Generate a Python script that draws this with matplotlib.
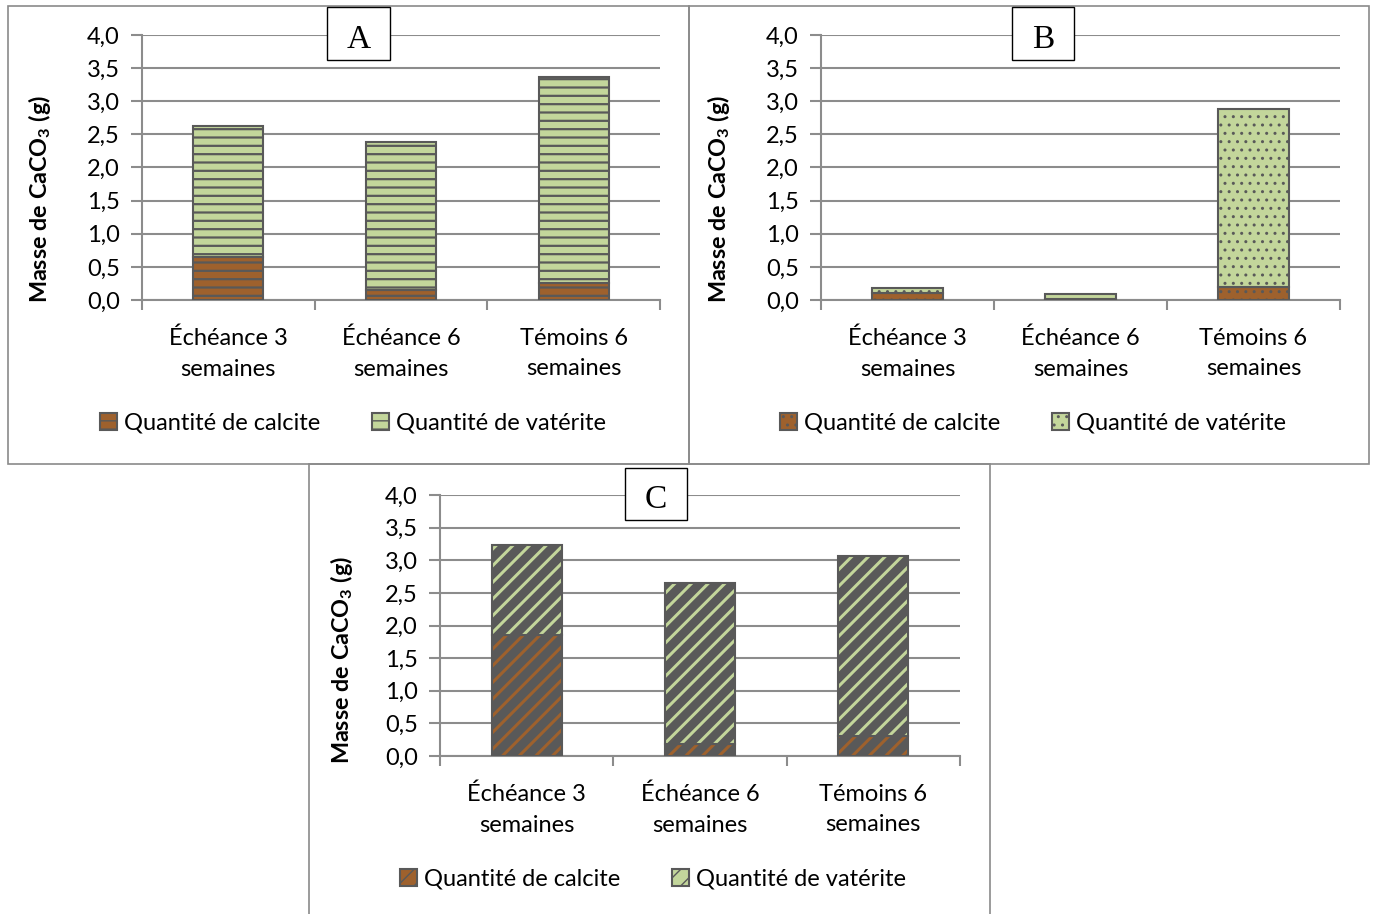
import matplotlib
matplotlib.use("Agg")
import matplotlib.pyplot as plt
from matplotlib.patches import Rectangle
import numpy as np

plt.rcParams['font.family'] = ['Lato', 'DejaVu Sans']
plt.rcParams['mathtext.fontset'] = 'custom'
plt.rcParams['mathtext.rm'] = 'Lato'
plt.rcParams['mathtext.bf'] = 'Lato:bold'

categories = ["Échéance 3\nsemaines", "Échéance 6\nsemaines", "Témoins 6\nsemaines"]
series_names = ["Quantité de calcite", "Quantité de vatérite"]
yticks = [0.0, 0.5, 1.0, 1.5, 2.0, 2.5, 3.0, 3.5, 4.0]

# totals; vaterite = total - calcite
calcite_a = [0.65, 0.15, 0.25]
total_a = [2.63, 2.39, 3.37]
calcite_b = [0.10, 0.01, 0.19]
total_b = [0.18, 0.09, 2.89]
calcite_c = [1.85, 0.18, 0.31]
total_c = [3.24, 2.65, 3.06]

W, H = 1374, 914
BROWN = "#9E612D"
GREEN = "#C3D69B"
EDGE = "#595959"
GRID = "#8C8C8C"
FS = 17

fig = plt.figure(figsize=(W / 100, H / 100), dpi=100)


def px_rect(x0, y0, x1, y1):
    return [x0 / W, 1 - y1 / H, (x1 - x0) / W, (y1 - y0) / H]


def panel(box, axrect, letterbox, letter, calcite, total, hatch, hatch_lw, legend_xy, ylab_xy):
    x0, y0, x1, y1 = box
    fig.add_artist(Rectangle((x0 / W, 1 - y1 / H), (x1 - x0) / W, (y1 - y0) / H,
                             transform=fig.transFigure, fill=False,
                             edgecolor="#8A8A8A", lw=1.2))
    ax = fig.add_axes(px_rect(*axrect))
    x = np.arange(len(categories))
    vaterite = [t - c for t, c in zip(total, calcite)]
    with plt.rc_context({'hatch.linewidth': hatch_lw}):
        b1 = ax.bar(x, calcite, width=0.405, color=BROWN, edgecolor=EDGE,
                    hatch=hatch, linewidth=1.5, label=series_names[0], zorder=3)
        b2 = ax.bar(x, vaterite, bottom=calcite, width=0.405, color=GREEN,
                    edgecolor=EDGE, hatch=hatch, linewidth=1.5,
                    label=series_names[1], zorder=3)
    for p in list(b1) + list(b2):
        if hasattr(p, "set_hatch_linewidth"):
            p.set_hatch_linewidth(hatch_lw)
    ax.set_xlim(-0.5, 2.5)
    ax.set_ylim(0, 4.0)
    ax.set_yticks(yticks)
    ax.set_yticklabels([f"{v:.1f}".replace(".", ",") for v in yticks])
    ax.yaxis.grid(True, color=GRID, lw=1.5, zorder=0)
    ax.set_axisbelow(True)
    for s in ["top", "right"]:
        ax.spines[s].set_visible(False)
    for s in ["left", "bottom"]:
        ax.spines[s].set_color(GRID)
        ax.spines[s].set_linewidth(1.5)
    ax.tick_params(axis="y", length=8, width=1.5, color=GRID, labelsize=FS, pad=8)
    ax.set_xticks(x)
    ax.set_xticklabels(categories, fontsize=FS, linespacing=1.55)
    ax.set_xticks([-0.5, 0.5, 1.5, 2.5], minor=True)
    ax.tick_params(axis="x", which="major", length=0, pad=20)
    ax.tick_params(axis="x", which="minor", length=7, width=1.5, color=GRID)
    ax.set_ylabel("Masse de CaCO$_\\mathbf{3}$ (g)", fontsize=16.8, fontweight="bold")
    # label centre in pixels -> axes fraction (anchor sits ~15 px right of the centre)
    ax.yaxis.set_label_coords((ylab_xy[0] + 15 - axrect[0]) / (axrect[2] - axrect[0]),
                              (axrect[3] - ylab_xy[1]) / (axrect[3] - axrect[1]))
    fig.legend(handles=[b1, b2], loc="center", bbox_to_anchor=(legend_xy[0] / W, 1 - legend_xy[1] / H),
               ncol=2, frameon=False, fontsize=FS, handlelength=0.7, handleheight=0.7,
               handletextpad=0.3, columnspacing=2.2)
    lx0, ly0, lx1, ly1 = letterbox
    fig.text((lx0 + lx1) / 2 / W, 1 - (ly1 - 12) / H, letter, ha="center", va="baseline",
             fontsize=24, family="Liberation Serif", zorder=10)
    fig.add_artist(Rectangle((lx0 / W, 1 - ly1 / H), (lx1 - lx0) / W, (ly1 - ly0) / H,
                             transform=fig.transFigure, facecolor="white",
                             edgecolor="black", lw=1.0, zorder=9))
    return ax


panel((8, 6, 689, 464), (142, 35, 660, 300), (327, 7, 390, 60), "A",
      calcite_a, total_a, "--", 1.6, (353, 423), (38, 199))
panel((689, 6, 1369, 464), (821, 35, 1340, 300), (1012, 7, 1074, 60), "B",
      calcite_b, total_b, "..", 1.0, (1033, 423), (717, 199))
panel((309, 464, 990, 930), (440, 495, 960, 756), (625, 468, 687, 520), "C",
      calcite_c, total_c, "//", 6.3, (653, 879), (340, 660))

fig.savefig("out.png", dpi=100)
